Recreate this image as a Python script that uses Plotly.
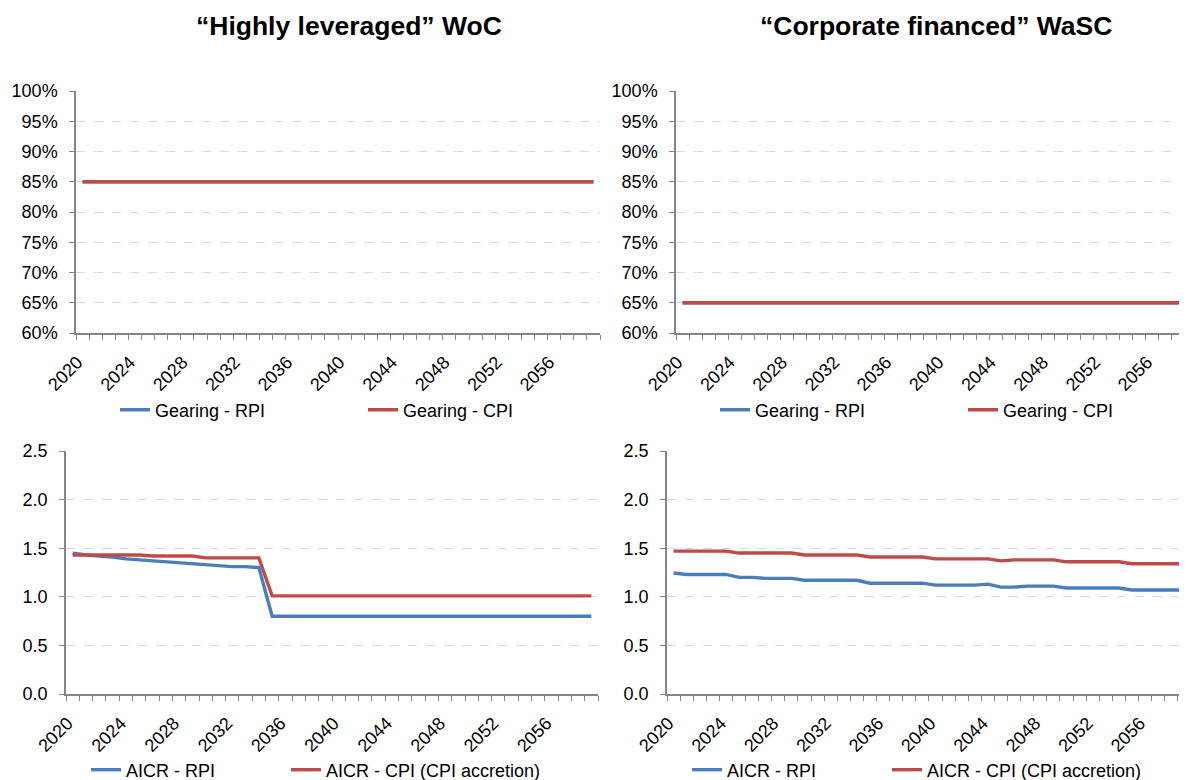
import plotly.graph_objects as go

# ---------------- data ----------------
years = list(range(2020, 2060))

gearing_rpi_woc = [0.85, 0.85, 0.85, 0.85, 0.85, 0.85, 0.85, 0.85, 0.85, 0.85,
                   0.85, 0.85, 0.85, 0.85, 0.85, 0.85, 0.85, 0.85, 0.85, 0.85,
                   0.85, 0.85, 0.85, 0.85, 0.85, 0.85, 0.85, 0.85, 0.85, 0.85,
                   0.85, 0.85, 0.85, 0.85, 0.85, 0.85, 0.85, 0.85, 0.85, 0.85]
gearing_cpi_woc = [0.85, 0.85, 0.85, 0.85, 0.85, 0.85, 0.85, 0.85, 0.85, 0.85,
                   0.85, 0.85, 0.85, 0.85, 0.85, 0.85, 0.85, 0.85, 0.85, 0.85,
                   0.85, 0.85, 0.85, 0.85, 0.85, 0.85, 0.85, 0.85, 0.85, 0.85,
                   0.85, 0.85, 0.85, 0.85, 0.85, 0.85, 0.85, 0.85, 0.85, 0.85]
gearing_rpi_wasc = [0.65, 0.65, 0.65, 0.65, 0.65, 0.65, 0.65, 0.65, 0.65, 0.65,
                    0.65, 0.65, 0.65, 0.65, 0.65, 0.65, 0.65, 0.65, 0.65, 0.65,
                    0.65, 0.65, 0.65, 0.65, 0.65, 0.65, 0.65, 0.65, 0.65, 0.65,
                    0.65, 0.65, 0.65, 0.65, 0.65, 0.65, 0.65, 0.65, 0.65, 0.65]
gearing_cpi_wasc = [0.65, 0.65, 0.65, 0.65, 0.65, 0.65, 0.65, 0.65, 0.65, 0.65,
                    0.65, 0.65, 0.65, 0.65, 0.65, 0.65, 0.65, 0.65, 0.65, 0.65,
                    0.65, 0.65, 0.65, 0.65, 0.65, 0.65, 0.65, 0.65, 0.65, 0.65,
                    0.65, 0.65, 0.65, 0.65, 0.65, 0.65, 0.65, 0.65, 0.65, 0.65]

aicr_rpi_woc = [1.45, 1.43, 1.42, 1.41, 1.39, 1.38, 1.37, 1.36, 1.35, 1.34,
                1.33, 1.32, 1.31, 1.31, 1.30, 0.80, 0.80, 0.80, 0.80, 0.80,
                0.80, 0.80, 0.80, 0.80, 0.80, 0.80, 0.80, 0.80, 0.80, 0.80,
                0.80, 0.80, 0.80, 0.80, 0.80, 0.80, 0.80, 0.80, 0.80, 0.80]
aicr_cpi_woc = [1.43, 1.43, 1.43, 1.43, 1.43, 1.43, 1.42, 1.42, 1.42, 1.42,
                1.40, 1.40, 1.40, 1.40, 1.40, 1.01, 1.01, 1.01, 1.01, 1.01,
                1.01, 1.01, 1.01, 1.01, 1.01, 1.01, 1.01, 1.01, 1.01, 1.01,
                1.01, 1.01, 1.01, 1.01, 1.01, 1.01, 1.01, 1.01, 1.01, 1.01]
aicr_rpi_wasc = [1.245, 1.23, 1.23, 1.23, 1.23, 1.20, 1.20, 1.19, 1.19, 1.19,
                 1.17, 1.17, 1.17, 1.17, 1.17, 1.14, 1.14, 1.14, 1.14, 1.14,
                 1.12, 1.12, 1.12, 1.12, 1.13, 1.10, 1.10, 1.11, 1.11, 1.11,
                 1.09, 1.09, 1.09, 1.09, 1.09, 1.07, 1.07, 1.07, 1.07, 1.07]
aicr_cpi_wasc = [1.47, 1.47, 1.47, 1.47, 1.47, 1.45, 1.45, 1.45, 1.45, 1.45,
                 1.43, 1.43, 1.43, 1.43, 1.43, 1.41, 1.41, 1.41, 1.41, 1.41,
                 1.39, 1.39, 1.39, 1.39, 1.39, 1.37, 1.38, 1.38, 1.38, 1.38,
                 1.36, 1.36, 1.36, 1.36, 1.36, 1.34, 1.34, 1.34, 1.34, 1.34]

x_label_years = [2020, 2024, 2028, 2032, 2036, 2040, 2044, 2048, 2052, 2056]
x_boundaries = [y - 0.5 for y in years] + [years[-1] + 0.5]

titles = ["\u201cHighly leveraged\u201d WoC", "\u201cCorporate financed\u201d WaSC"]
gearing_names = ["Gearing - RPI", "Gearing - CPI"]
aicr_names = ["AICR - RPI", "AICR - CPI (CPI accretion)"]

# ---------------- style ----------------
# The page adds an 8px body margin, so the figure is 8px smaller than the window
W, H = 1179, 772
FONT = "Liberation Sans, Arial, sans-serif"
BLUE = "#4A7EBB"
RED = "#BE4B48"
AXIS = "#868686"
GRID = "#D9D9D9"


def px_x(a, b):
    return [a / W, min(b / W, 1.0)]


def px_y(top, bottom):
    return [1 - bottom / H, 1 - top / H]


fig = go.Figure()

panels = [
    ("x", "y", "legend", (gearing_rpi_woc, gearing_cpi_woc), gearing_names, 203),
    ("x2", "y2", "legend2", (gearing_rpi_wasc, gearing_cpi_wasc), gearing_names, 203),
    ("x3", "y3", "legend3", (aicr_rpi_woc, aicr_cpi_woc), aicr_names, 155),
    ("x4", "y4", "legend4", (aicr_rpi_wasc, aicr_cpi_wasc), aicr_names, 155),
]

for xa, ya, lg, series, names, ew in panels:
    for vals, name, col, lw in zip(series, names, (BLUE, RED), (ew, 230)):
        fig.add_trace(go.Scatter(
            x=years, y=vals, name=name, mode="lines",
            line=dict(color=col, width=3.4),
            xaxis=xa, yaxis=ya, legend=lg, legendwidth=lw,
        ))


def xaxis_cfg(dom, rng, anchor):
    return dict(
        domain=dom, range=rng, anchor=anchor, automargin=False,
        showline=True, linecolor=AXIS, linewidth=1.5,
        showgrid=False, zeroline=False,
        tickmode="array", tickvals=x_label_years,
        ticktext=[str(v) for v in x_label_years],
        ticks="outside", ticklen=5, tickcolor="rgba(0,0,0,0)",
        tickangle=-45, ticklabelstandoff=5, ticklabelshift=-5,
        tickfont=dict(family=FONT, size=18, color="#000000"),
        minor=dict(tickmode="array", tickvals=x_boundaries, ticks="outside",
                   ticklen=5, tickcolor=AXIS, tickwidth=1, showgrid=False),
        fixedrange=True,
    )


def yaxis_cfg(dom, rng, dtick, fmt, anchor):
    return dict(
        domain=dom, range=rng, anchor=anchor, automargin=False,
        showline=True, linecolor=AXIS, linewidth=1.5,
        showgrid=True, gridcolor=GRID, griddash="dash", gridwidth=1,
        zeroline=False,
        tick0=rng[0], dtick=dtick, tickformat=fmt,
        ticks="outside", ticklen=5, tickcolor=AXIS,
        ticklabelstandoff=8,
        tickfont=dict(family=FONT, size=18, color="#000000"),
        fixedrange=True,
    )


top_y = px_y(83, 325)
bot_y = px_y(443, 686)

fig.update_layout(
    width=W, height=H,
    margin=dict(l=0, r=0, t=0, b=0, autoexpand=False),
    paper_bgcolor="white", plot_bgcolor="white",
    font=dict(family=FONT, size=18, color="#000000"),
    xaxis=xaxis_cfg(px_x(68, 592), [2019.5, 2059.5], "y"),
    yaxis=yaxis_cfg(top_y, [0.6, 1.0], 0.05, ".0%", "x"),
    xaxis2=xaxis_cfg(px_x(668, 1179), [2019.5, 2058.66], "y2"),
    yaxis2=yaxis_cfg(top_y, [0.6, 1.0], 0.05, ".0%", "x2"),
    xaxis3=xaxis_cfg(px_x(58, 590), [2019.5, 2059.5], "y3"),
    yaxis3=yaxis_cfg(bot_y, [0, 2.5], 0.5, ".1f", "x3"),
    xaxis4=xaxis_cfg(px_x(659, 1179), [2019.5, 2059.2], "y4"),
    yaxis4=yaxis_cfg(bot_y, [0, 2.5], 0.5, ".1f", "x4"),
    showlegend=True,
)

legend_common = dict(orientation="h", xanchor="left", yanchor="middle",
                     font=dict(family=FONT, size=18, color="#000000"),
                     bgcolor="rgba(0,0,0,0)", itemwidth=30,
                     traceorder="normal")
fig.update_layout(
    legend=dict(legend_common, x=107 / W, y=1 - 402 / H),
    legend2=dict(legend_common, x=707 / W, y=1 - 402 / H),
    legend3=dict(legend_common, x=78 / W, y=1 - 762 / H),
    legend4=dict(legend_common, x=679 / W, y=1 - 762 / H),
)

for txt, cx in zip(titles, (341, 928)):
    fig.add_annotation(
        text="<b>" + txt + "</b>", x=cx / W, y=1 - 18 / H,
        xref="paper", yref="paper", xanchor="center", yanchor="middle",
        showarrow=False, font=dict(family=FONT, size=26.5, color="#000000"),
    )

fig.write_html("out.html")
